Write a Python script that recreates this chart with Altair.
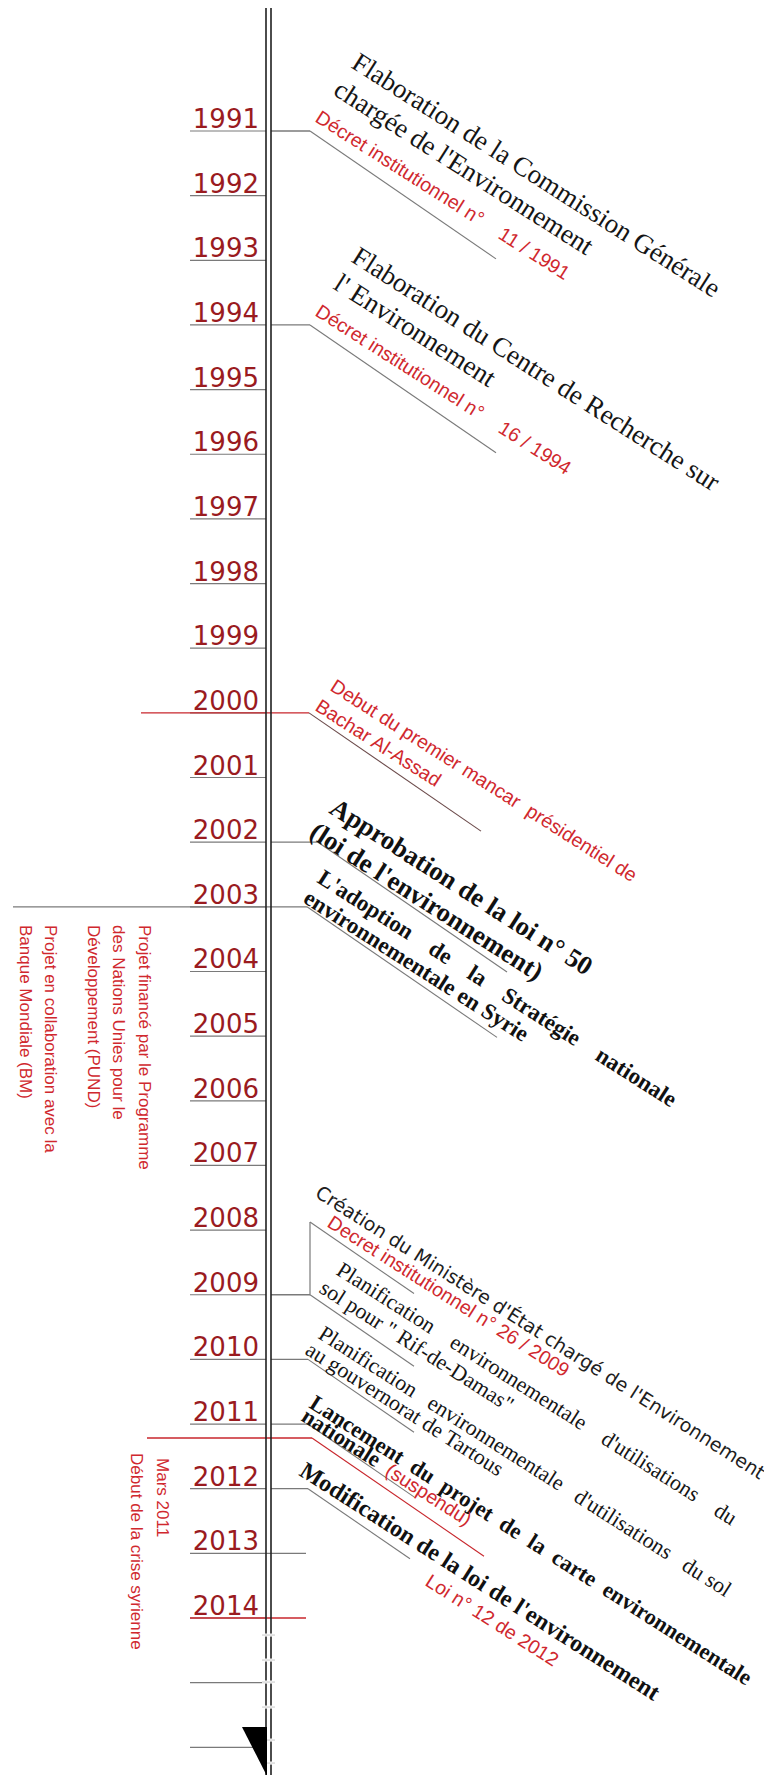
import altair as alt
import pandas as pd
import math

# ---------------- data ----------------
years = list(range(1991, 2015))
year_labels = [str(y) for y in years]
extra_tick_years = [2015, 2016]

# events: year of the connector corner
ev_name = ["e1991", "e1994", "e2000", "e2002", "e2003", "e2008", "e2009", "e2010", "e2011", "mars2011", "e2012"]
ev_year = [1991, 1994, 2000, 2002, 2003, 2007.876, 2009, 2010, 2011, 2011.216, 2012]

# text lines of the events
NB = "\u00a0"
line_event = ["e1991", "e1991", "e1991",
              "e1994", "e1994", "e1994",
              "e2000", "e2000",
              "e2002", "e2002",
              "e2003", "e2003",
              "e2008", "e2008",
              "e2009", "e2009",
              "e2010", "e2010",
              "e2011", "e2011", "e2011",
              "e2012", "e2012"]
line_text = ["Flaboration de la Commission Générale",
             "chargée de l'Environnement",
             "Décret institutionnel n°" + NB * 4 + "11 / 1991",
             "Flaboration du Centre de Recherche sur",
             "l' Environnement",
             "Décret institutionnel n°" + NB * 4 + "16 / 1994",
             "Debut du premier mancar" + NB * 2 + "présidentiel de",
             "Bachar Al-Assad",
             "Approbation de la loi n° 50",
             "(loi de l'environnement)",
             ("L'adoption" + NB * 4 + "de" + NB * 4 + "la" + NB * 4 + "Stratégie" + NB * 4 + "nationale"),
             "environnementale en Syrie",
             "Création du Ministère d'État chargé de l'Environnement",
             "Decret institutionnel n° 26 / 2009",
             ("Planification" + NB * 4 + "environnementale" + NB * 4 + "d'utilisations" + NB * 4 + "du"),
             "sol pour \" Rif-de-Damas\"",
             ("Planification" + NB * 3 + "environnementale" + NB * 3 + "d'utilisations" + NB * 3 + "du sol"),
             "au gouvernorat de Tartous",
             ("Lancement" + NB * 2 + "du" + NB * 2 + "projet" + NB * 2 + "de" + NB * 2 + "la" + NB * 2 + "carte" + NB * 2 + "environnementale"),
             "nationale",
             "(suspendu)",
             "Modification de la loi de l'environnement",
             "Loi n° 12 de 2012"]
line_style = ["serif27", "serif27", "red",
              "serif27", "serif27", "red",
              "red", "red",
              "bold26", "bold26",
              "bold23", "bold23",
              "sans", "red",
              "serif22", "serif22",
              "serif22", "serif22",
              "bold22", "bold22", "red",
              "bold24", "red"]
# layout offsets (px) of each line's baseline start from the event corner
line_dx = [40, 22, 4,
           40, 22, 4,
           20, 5,
           10, -10,
           9, -5,
           4, 16,
           25, 8,
           9, -4,
           0, -8, 76,
           -10, 116]
line_dy = [-64, -37, -10,
           -64, -37, -10,
           -23, -3,
           -30, -6,
           -25, -5,
           -26, 4,
           -21, -3,
           -22, -6,
           -17, -4, 50,
           -14, 96]

# connectors: horizontal start, corner x, diagonal length (px), colours
conn_event = ["e1991", "e1994", "e2000", "e2002", "e2003", "e2009", "e2010", "e2011", "mars2011", "e2012"]
conn_h_start = [271, 271, 141, 271, 13, 271, 271, 271, 147, 271]
conn_corner = [310, 310, 309, 318, 307, 310, 308, 308, 312, 308]
conn_diag = [186, 186, 172, 189, 190, 104, 106, 106, 172, 102]
conn_h_color = ["gray", "gray", "red", "gray", "gray", "gray", "gray", "gray", "red", "gray"]
conn_d_color = ["gray", "gray", "dark", "gray", "gray", "gray", "gray", "gray", "red", "gray"]

# left side vertical notes
note_text = ["Projet financé par le Programme", "des Nations Unies pour le", "Développement (PUND)",
             "Projet en collaboration avec la", "Banque Mondiale (BM)",
             "Mars 2011", "Début de la crise syrienne"]
note_x = [144, 118, 93, 50, 25, 162, 136]
note_top_px = [925, 925, 925, 925, 925, 1458, 1453]

# ---------------- layout helpers ----------------
PX = 64.65          # px per year
Y0 = 131            # px of 1991
TEXT_ANG = 32.5
LINE_ANG = 34.5
TAN = math.tan(math.radians(LINE_ANG))
AXIS_X = [266, 271]
COLORS = {"gray": "#7a7a7a", "red": "#c8262c", "dark": "#6b4a4a", "black": "#1a1a1a"}


def px2yr(p):
    return 1991 + (p - Y0) / PX


XS = alt.Scale(domain=[8, 764], range=[0, 756], zero=False, nice=False)
YS = alt.Scale(domain=[1991, 2014], range=[123, 1610], zero=False, nice=False)


def X(f):
    return alt.X(f, type="quantitative", scale=XS, axis=None)


def Y(f):
    return alt.Y(f, type="quantitative", scale=YS, axis=None)


ev_y = dict(zip(ev_name, ev_year))
ev_corner = dict(zip(conn_event, conn_corner))
ev_corner["e2008"] = 310

# ---------------- rules ----------------
rules = []
for yv in years + extra_tick_years:
    rules.append(dict(x=190, x2=266, y=yv, y2=yv, c=COLORS["gray"], w=1.2))
rules.append(dict(x=190, x2=306, y=2014, y2=2014, c=COLORS["red"], w=1.3))
rules.append(dict(x=266, x2=306, y=2013, y2=2013, c=COLORS["gray"], w=1.2))
for e, hs, cx, dl, hc, dc in zip(conn_event, conn_h_start, conn_corner, conn_diag, conn_h_color, conn_d_color):
    yv = ev_y[e]
    rules.append(dict(x=hs, x2=cx, y=yv, y2=yv, c=COLORS[hc], w=1.3))
    rules.append(dict(x=cx, x2=cx + dl, y=yv, y2=yv + dl * TAN / PX, c=COLORS[dc], w=1.1))
# 2008 bracket
rules.append(dict(x=310, x2=310, y=ev_y["e2008"], y2=2009, c=COLORS["gray"], w=1.2))
rules.append(dict(x=310, x2=414, y=ev_y["e2008"], y2=ev_y["e2008"] + 104 * TAN / PX, c=COLORS["gray"], w=1.1))
# main double axis
for ax in AXIS_X:
    rules.append(dict(x=ax, x2=ax, y=px2yr(7), y2=px2yr(1780), c="#202020", w=1.6))
rules_df = pd.DataFrame(rules)

# small breaks in the axis below 2014
break_px = [1635, 1660, 1682, 1707, 1740, 1763]
breaks_df = pd.DataFrame(dict(x=[262] * len(break_px), x2=[275] * len(break_px),
                              y=[px2yr(p) for p in break_px]))
breaks_df["y2"] = breaks_df["y"]

rule_layer = alt.Chart(rules_df).mark_rule().encode(
    x=X("x"), x2="x2", y=Y("y"), y2="y2",
    color=alt.Color("c:N", scale=None), strokeWidth=alt.StrokeWidth("w:Q", scale=None))
break_white = alt.Chart(breaks_df).mark_rule(color="white", strokeWidth=3).encode(
    x=X("x"), x2="x2", y=Y("y"), y2="y2")
break_tick = alt.Chart(breaks_df).mark_rule(color="#c8c8c8", strokeWidth=1).encode(
    x=X("x"), x2="x2", y=Y("y"), y2="y2")

# triangle at the bottom
tri_df = pd.DataFrame(dict(x=[242, 267], y=[px2yr(1727), px2yr(1727)], y2=[px2yr(1727), px2yr(1776)]))
tri_layer = alt.Chart(tri_df).mark_area(color="black", interpolate="linear").encode(
    x=X("x"), y=Y("y"), y2="y2")

# ---------------- year labels ----------------
yl_df = pd.DataFrame(dict(text=year_labels, y=[yv - 3 / PX for yv in years], x=[259] * len(years)))
year_layer = alt.Chart(yl_df).mark_text(
    align="right", baseline="alphabetic", font="DejaVu Sans", fontSize=26, color="#9a1b1f"
).encode(x=X("x"), y=Y("y"), text="text:N")

# ---------------- event texts ----------------
STYLES = {
    "serif27": dict(font="Liberation Serif", fontSize=27, fontWeight="normal", color="#151515"),
    "serif22": dict(font="Liberation Serif", fontSize=22, fontWeight="normal", color="#151515"),
    "bold26": dict(font="Liberation Serif", fontSize=26.5, fontWeight="bold", color="#111111"),
    "bold24": dict(font="Liberation Serif", fontSize=24, fontWeight="bold", color="#111111"),
    "bold23": dict(font="Liberation Serif", fontSize=23, fontWeight="bold", color="#111111"),
    "bold22": dict(font="Liberation Serif", fontSize=22.5, fontWeight="bold", color="#111111"),
    "sans": dict(font="DejaVu Sans", fontSize=19, fontWeight="normal", color="#202020"),
    "red": dict(font="Liberation Sans", fontSize=19.5, fontWeight="normal", color="#d0282e"),
}
txt = pd.DataFrame(dict(text=line_text, ev=line_event, style=line_style, dx=line_dx, dy=line_dy))
txt["x"] = [ev_corner[e] + d for e, d in zip(txt["ev"], txt["dx"])]
txt["y"] = [ev_y[e] + d / PX for e, d in zip(txt["ev"], txt["dy"])]

text_layers = []
for st, props in STYLES.items():
    sub = txt[txt["style"] == st]
    if len(sub) == 0:
        continue
    text_layers.append(alt.Chart(sub).mark_text(
        align="left", baseline="alphabetic", angle=TEXT_ANG, **props
    ).encode(x=X("x"), y=Y("y"), text="text:N"))

# ---------------- vertical notes ----------------
notes_df = pd.DataFrame(dict(text=note_text, x=note_x, y=[px2yr(p) for p in note_top_px]))
notes_layer = alt.Chart(notes_df).mark_text(
    align="left", baseline="middle", angle=90, font="Liberation Sans", fontSize=17, color="#d0282e"
).encode(x=X("x"), y=Y("y"), text="text:N")

chart = alt.layer(
    rule_layer, break_white, break_tick, tri_layer, year_layer, *text_layers, notes_layer
).properties(
    width=756, height=1767, padding=0, autosize=alt.AutoSizeParams(type="none")
).configure_view(stroke=None)

chart.save("out.html", embed_options={"renderer": "svg", "actions": False})
